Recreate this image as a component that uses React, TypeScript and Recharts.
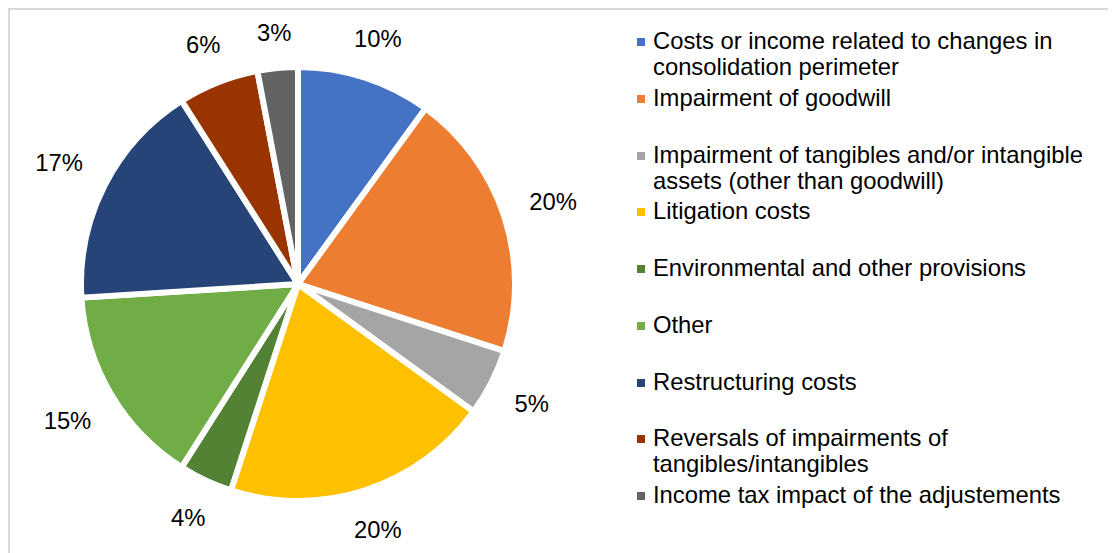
import { PieChart, Pie, Cell, Legend } from "recharts";

const categories = [
  "Costs or income related to changes in consolidation perimeter",
  "Impairment of goodwill",
  "Impairment of tangibles and/or intangible assets (other than goodwill)",
  "Litigation costs",
  "Environmental and other provisions",
  "Other",
  "Restructuring costs",
  "Reversals of impairments of tangibles/intangibles",
  "Income tax impact of the adjustements",
];
const shares = [10, 20, 5, 20, 4, 15, 17, 6, 3];
const colors = [
  "#4472C4",
  "#ED7D31",
  "#A5A5A5",
  "#FFC000",
  "#548235",
  "#70AD47",
  "#264478",
  "#993300",
  "#636363",
];

const data = categories.map((name, i) => ({ name, value: shares[i] }));

const FONT = '"Liberation Sans", Arial, sans-serif';
const FS = 23.8;
const RADIAN = Math.PI / 180;

const renderLabel = (props: any) => {
  const { cx, cy, midAngle, outerRadius, percent } = props;
  const text = `${Math.round(percent * 100)}%`;
  const cos = Math.cos(-midAngle * RADIAN);
  const sin = Math.sin(-midAngle * RADIAN);
  const w = ((text.length - 1) * 0.556 + 0.889) * FS;
  const h = 17;
  const dist = outerRadius + 26 + (Math.abs(cos) * w) / 2 + (Math.abs(sin) * h) / 2;
  return (
    <text
      x={cx + dist * cos}
      y={cy + dist * sin}
      textAnchor="middle"
      dominantBaseline="central"
      fontFamily={FONT}
      fontSize={FS}
      fill="#000"
    >
      {text}
    </text>
  );
};

const LegendContent = () => (
  <div style={{ fontFamily: FONT, fontSize: FS, lineHeight: "26px", color: "#000" }}>
    {categories.map((name, i) => (
      <div key={name} style={{ display: "flex", height: 56.75 }}>
        <div
          style={{
            width: 8,
            height: 8,
            marginTop: 10,
            marginRight: 8,
            flex: "0 0 8px",
            background: colors[i],
          }}
        />
        <div style={{ width: 445 }}>{name}</div>
      </div>
    ))}
  </div>
);

export default function App() {
  return (
    <div
      style={{
        width: 1106,
        height: 543,
        borderTop: "2px solid #d9d9d9",
        borderLeft: "2px solid #d9d9d9",
        position: "relative",
      }}
    >
      <PieChart width={1106} height={543} margin={{ top: 0, right: 0, bottom: 0, left: 0 }}>
        <Pie
          data={data}
          dataKey="value"
          nameKey="name"
          cx={288}
          cy={274}
          outerRadius={217}
          startAngle={90}
          endAngle={-270}
          stroke="#ffffff"
          strokeWidth={6}
          label={renderLabel}
          labelLine={false}
          isAnimationActive={false}
        >
          {data.map((d, i) => (
            <Cell key={d.name} fill={colors[i]} />
          ))}
        </Pie>
        <Legend
          content={<LegendContent />}
          wrapperStyle={{ left: 627, top: 18, width: 475, bottom: "auto" }}
        />
      </PieChart>
    </div>
  );
}
